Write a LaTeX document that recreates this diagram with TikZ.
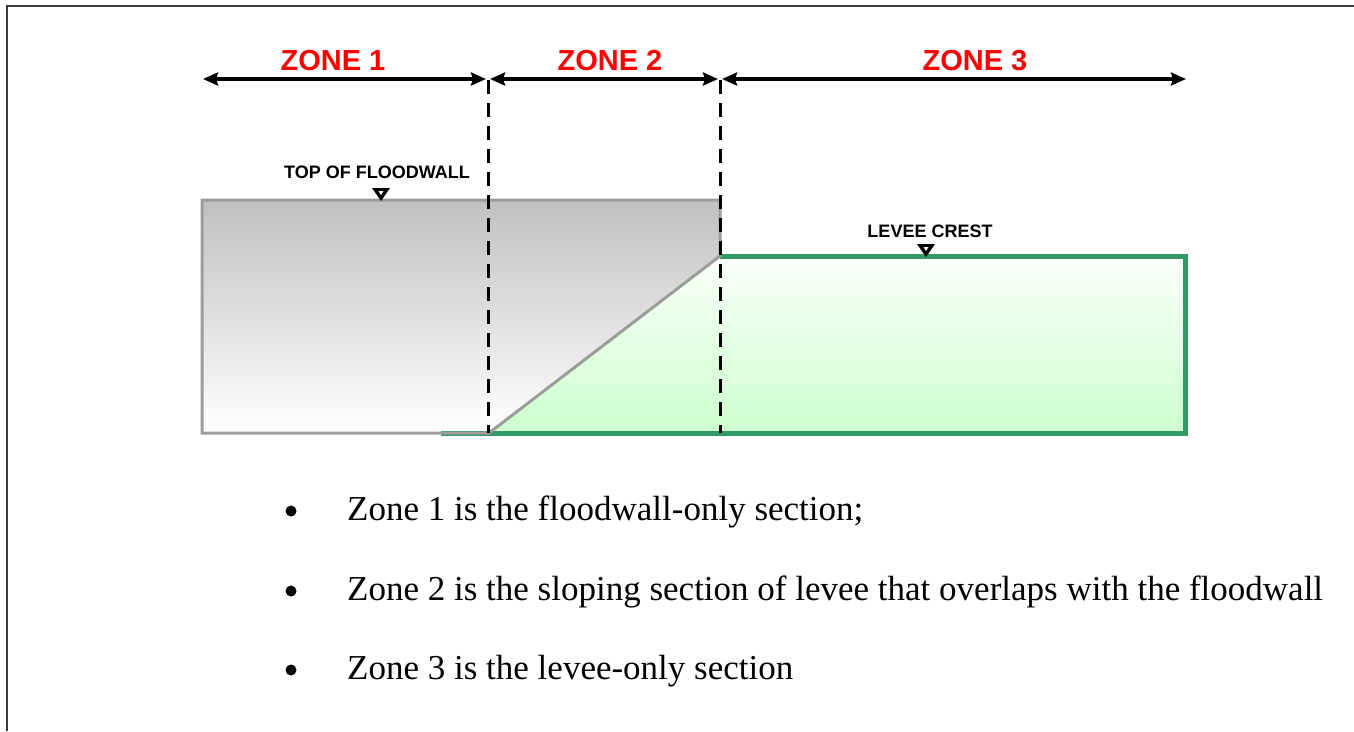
\documentclass[tikz,border=0pt]{standalone}
\usepackage{fontspec}
\setmainfont{Liberation Serif}
\setsansfont{Liberation Sans}
\usetikzlibrary{arrows.meta}
\definecolor{wallgray}{HTML}{9C9C9C}
\definecolor{wallfill}{HTML}{C0C0C0}
\definecolor{leveegreen}{HTML}{339966}
\definecolor{leveefill}{HTML}{CCFFCC}
\definecolor{leveetop}{HTML}{FAFFFA}
\definecolor{zonered}{HTML}{FF0000}
\definecolor{framegray}{HTML}{3A3A3A}
\begin{document}
\begin{tikzpicture}[x=1pt,y=-1pt,
  frameline/.style={framegray, line width=2pt},
  wallline/.style={wallgray, line width=3pt},
  leveeline/.style={leveegreen, line width=5pt},
  divider/.style={black, line width=3pt, dash pattern=on 14pt off 9pt},
  zonearrow/.style={black, line width=3.5pt, {Stealth[length=15pt,width=13pt,inset=2pt]}-{Stealth[length=15pt,width=13pt,inset=2pt]}},
  zonelabel/.style={inner sep=0pt, anchor=base, text=zonered, font=\sffamily\bfseries\fontsize{29}{34}\selectfont},
  marklabel/.style={inner sep=0pt, anchor=base, font=\sffamily\bfseries\fontsize{18}{22}\selectfont},
  dotbullet/.style={circle, fill=black, inner sep=0pt, minimum size=11pt},
  itemtext/.style={inner sep=0pt, anchor=base west, font=\fontsize{35}{42}\selectfont}
]
\useasboundingbox (0,0) rectangle (1354,731);
\fill[white] (0,0) rectangle (1354,731);
\draw[frameline] (7,731) -- (7,6) -- (1354,6);

% floodwall
\shade[top color=wallfill, bottom color=white] (202,200) rectangle (720,433);
% levee
\shade[top color=leveetop, bottom color=leveefill] (489,433) -- (720,256) -- (1185,256) -- (1185,433) -- cycle;
\draw[leveeline] (441,433) -- (1185,433) -- (1185,256) -- (720,256);
\draw[wallline] (720,256) -- (720,200) -- (202,200) -- (202,433) -- (489,433) -- cycle;

% dividers
\coordinate (d1top) at (488,80);
\coordinate (d1bot) at (488,433);
\coordinate (d2top) at (720,80);
\coordinate (d2bot) at (720,433);
\draw[divider] (d1top) -- (d1bot);
\draw[divider] (d2top) -- (d2bot);

% zone arrows
\coordinate (a0) at (203,79);
\coordinate (a1l) at (486,79);
\coordinate (a1r) at (490,79);
\coordinate (a2l) at (718,79);
\coordinate (a2r) at (722,79);
\coordinate (a3) at (1186,79);
\draw[zonearrow] (a0) -- (a1l);
\draw[zonearrow] (a1r) -- (a2l);
\draw[zonearrow] (a2r) -- (a3);

\node[zonelabel] (zone1) at (333,70) {ZONE 1};
\node[zonelabel] (zone2) at (610,70) {ZONE 2};
\node[zonelabel] (zone3) at (975,70) {ZONE 3};

% markers
\node[marklabel] (topfw) at (377,178) {TOP OF FLOODWALL};
\fill[black] (372,188) -- (390,188) -- (381,201) -- cycle;
\fill[white] (378.5,191) -- (383.5,191) -- (381,195) -- cycle;
\node[marklabel] (crest) at (930,237) {LEVEE CREST};
\fill[black] (917,244) -- (935,244) -- (926,257) -- cycle;
\fill[white] (923.5,247) -- (928.5,247) -- (926,251) -- cycle;

% bullet list
\node[dotbullet] (b1) at (291,511) {};
\node[dotbullet] (b2) at (291,591) {};
\node[dotbullet] (b3) at (291,670) {};
\node[itemtext] (t1) at (347,520) {Zone 1 is the floodwall-only section;};
\node[itemtext] (t2) at (347,600) {Zone 2 is the sloping section of levee that overlaps with the floodwall};
\node[itemtext] (t3) at (347,679) {Zone 3 is the levee-only section};
\end{tikzpicture}
\end{document}
